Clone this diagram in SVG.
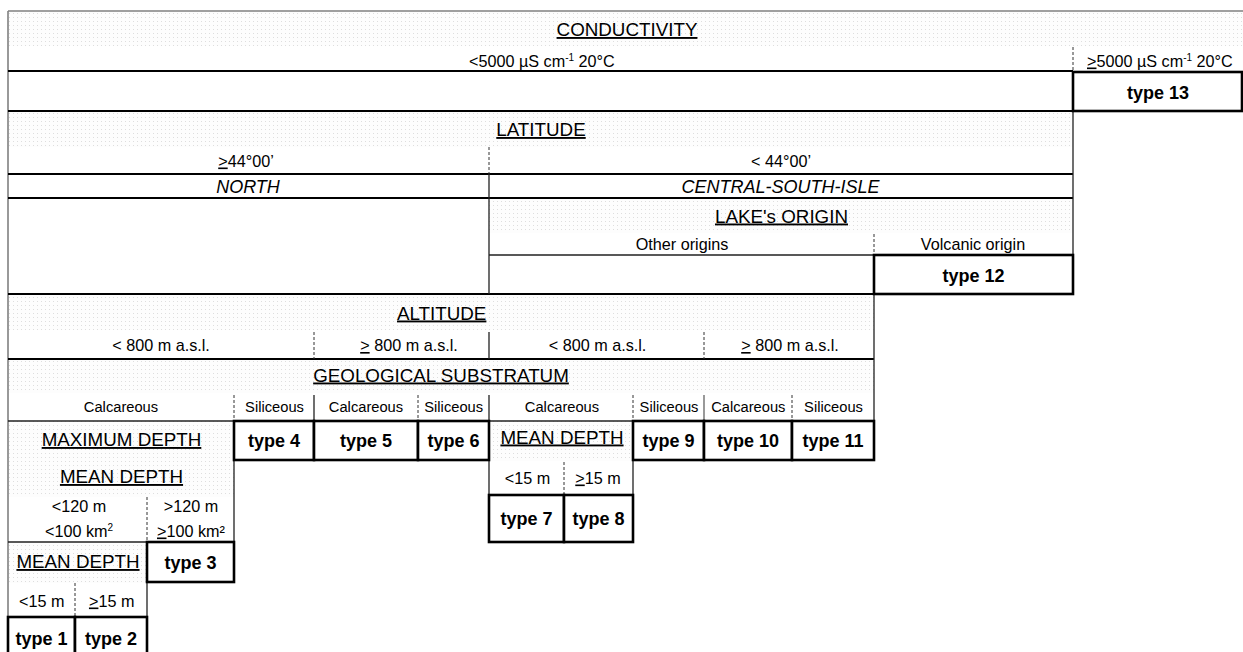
<svg xmlns="http://www.w3.org/2000/svg" width="1243" height="652" viewBox="0 0 1243 652">
<defs>
<pattern id="dots" width="4" height="4" patternUnits="userSpaceOnUse">
<rect width="4" height="4" fill="#fdfdfd"/>
<rect x="1" y="1" width="1" height="1" fill="#dedede"/>
</pattern>
<style>
text{font-family:"Liberation Sans",Arial,sans-serif;fill:#000;}
.h{font-size:18.8px;text-anchor:middle;text-decoration:underline;}
.s{font-size:16.2px;text-anchor:middle;}
.g{font-size:14.7px;text-anchor:middle;}
.i{font-size:18px;font-style:italic;text-anchor:middle;}
.t{font-size:18px;font-weight:bold;text-anchor:middle;}
.u{text-decoration:underline;}
.shade{fill:url(#dots);}
.thick{stroke:#000;stroke-width:2;fill:none;}
.thin{stroke:#222;stroke-width:1.3;fill:none;}
.gray{stroke:#808080;stroke-width:1.6;fill:none;}
.dash{stroke:#333;stroke-width:1;stroke-dasharray:3 2;fill:none;}
.box{fill:#fff;stroke:#000;stroke-width:2.6;}
</style>
</defs>
<rect width="1243" height="652" fill="#fff"/>
<g id="shading">
<rect class="shade" x="8" y="11" width="1235" height="35"/>
<rect class="shade" x="8" y="111" width="1065" height="36"/>
<rect class="shade" x="489" y="198" width="584" height="35"/>
<rect class="shade" x="8" y="294" width="866" height="36"/>
<rect class="shade" x="8" y="359" width="866" height="34"/>
<rect class="shade" x="8" y="421" width="226" height="76"/>
<rect class="shade" x="489" y="421" width="144" height="40"/>
<rect class="shade" x="8" y="542" width="139" height="41"/>
</g>
<g id="connectors">
<path class="gray" d="M8,11 H1243 M8,11 V652"/>
<path class="thick" d="M8,71 H1073 M8,111 H1073 M8,174 H1073 M8,198 H1073 M8,294 H874 M8,359 H874"/>
<path class="thin" d="M8,421 H874"/>
<path class="thin" d="M1073,111 V294 M489,174 V294 M874,294 V421 M489,332 V359 M489,395 V497 M314,395 V421 M234,421 V542 M8,542 H147 M147,542 V617 M633,460 V495 M489,255 H874"/>
<path class="gray" d="M704,395 V421"/>
<path class="dash" d="M1073,47 V71 M489,147 V174 M874,234 V255 M314,332 V359 M704,332 V359 M234,395 V421 M418,395 V421 M633,395 V421 M792,395 V421 M147,497 V542 M75,583 V617 M564,462 V495"/>
</g>
<g id="conductivity">
<text class="h" x="627" y="36">CONDUCTIVITY</text>
<text x="469" y="66.5" font-size="16.2">&lt;5000 µS cm<tspan dy="-6" font-size="10">-1</tspan><tspan dy="6"> 20°C</tspan></text>
<text x="1087" y="66.5" font-size="16.2"><tspan class="u">&gt;</tspan>5000 µS cm<tspan dy="-6" font-size="10">-1</tspan><tspan dy="6"> 20°C</tspan></text>
</g>
<g id="type13"><rect class="box" x="1073" y="72" width="169" height="39"/><text class="t" x="1158" y="98.5">type 13</text></g>
<g id="latitude">
<text class="h" x="541" y="136">LATITUDE</text>
<text class="s" x="246" y="166.5"><tspan class="u">&gt;</tspan>44°00’</text>
<text class="s" x="781" y="166.5">&lt; 44°00’</text>
<text class="i" x="248" y="193">NORTH</text>
<text class="i" x="780.5" y="193">CENTRAL-SOUTH-ISLE</text>
</g>
<g id="origin">
<text class="h" x="781.5" y="222.5">LAKE's ORIGIN</text>
<text class="s" x="682" y="250">Other origins</text>
<text class="s" x="973" y="250">Volcanic origin</text>
</g>
<g id="type12"><rect class="box" x="874" y="255" width="199" height="39"/><text class="t" x="973.5" y="281.5">type 12</text></g>
<g id="altitude">
<text class="h" x="441.7" y="319.5">ALTITUDE</text>
<text class="s" x="161" y="351">&lt; 800 m a.s.l.</text>
<text class="s" x="409" y="351"><tspan class="u">&gt;</tspan> 800 m a.s.l.</text>
<text class="s" x="597.5" y="351">&lt; 800 m a.s.l.</text>
<text class="s" x="790" y="351"><tspan class="u">&gt;</tspan> 800 m a.s.l.</text>
</g>
<g id="geology">
<text class="h" x="441" y="381.5">GEOLOGICAL SUBSTRATUM</text>
<text class="g" x="121" y="411.5">Calcareous</text>
<text class="g" x="274.5" y="411.5">Siliceous</text>
<text class="g" x="366" y="411.5">Calcareous</text>
<text class="g" x="453.7" y="411.5">Siliceous</text>
<text class="g" x="562" y="411.5">Calcareous</text>
<text class="g" x="669" y="411.5">Siliceous</text>
<text class="g" x="748.3" y="411.5">Calcareous</text>
<text class="g" x="833.5" y="411.5">Siliceous</text>
</g>
<g id="type4"><rect class="box" x="234" y="421" width="80" height="39"/><text class="t" x="274" y="447">type 4</text></g>
<g id="type5"><rect class="box" x="314" y="421" width="104" height="39"/><text class="t" x="366" y="447">type 5</text></g>
<g id="type6"><rect class="box" x="418" y="421" width="71" height="39"/><text class="t" x="453.5" y="447">type 6</text></g>
<g id="type9"><rect class="box" x="633" y="421" width="71" height="39"/><text class="t" x="668.5" y="447">type 9</text></g>
<g id="type10"><rect class="box" x="704" y="421" width="88" height="39"/><text class="t" x="748" y="447">type 10</text></g>
<g id="type11"><rect class="box" x="792" y="421" width="82" height="39"/><text class="t" x="833" y="447">type 11</text></g>
<g id="maxdepth">
<text class="h" x="121.5" y="446">MAXIMUM DEPTH</text>
<text class="h" x="121.5" y="483">MEAN DEPTH</text>
<text class="s" x="79" y="511.5">&lt;120 m</text>
<text class="s" x="79" y="536.5">&lt;100 km<tspan dy="-6" font-size="10">2</tspan></text>
<text class="s" x="191" y="511.5">&gt;120 m</text>
<text class="s" x="191" y="536.5"><tspan class="u">&gt;</tspan>100 km²</text>
</g>
<g id="type3"><rect class="box" x="147" y="542" width="87" height="40"/><text class="t" x="190.5" y="569">type 3</text></g>
<g id="meandepth-left">
<text class="h" x="78" y="568">MEAN DEPTH</text>
<text class="s" x="41.7" y="606.5">&lt;15 m</text>
<text class="s" x="111.7" y="606.5"><tspan class="u">&gt;</tspan>15 m</text>
</g>
<g id="type1"><rect class="box" x="8" y="617" width="67" height="45"/><text class="t" x="41.5" y="645">type 1</text></g>
<g id="type2"><rect class="box" x="75" y="617" width="72" height="45"/><text class="t" x="111" y="645">type 2</text></g>
<g id="meandepth-center">
<text class="h" x="562" y="443.5">MEAN DEPTH</text>
<text class="s" x="527.5" y="483.5">&lt;15 m</text>
<text class="s" x="598" y="483.5"><tspan class="u">&gt;</tspan>15 m</text>
</g>
<g id="type7"><rect class="box" x="489" y="495" width="75" height="47"/><text class="t" x="526.5" y="525">type 7</text></g>
<g id="type8"><rect class="box" x="564" y="495" width="69" height="47"/><text class="t" x="598.5" y="525">type 8</text></g>
</svg>
